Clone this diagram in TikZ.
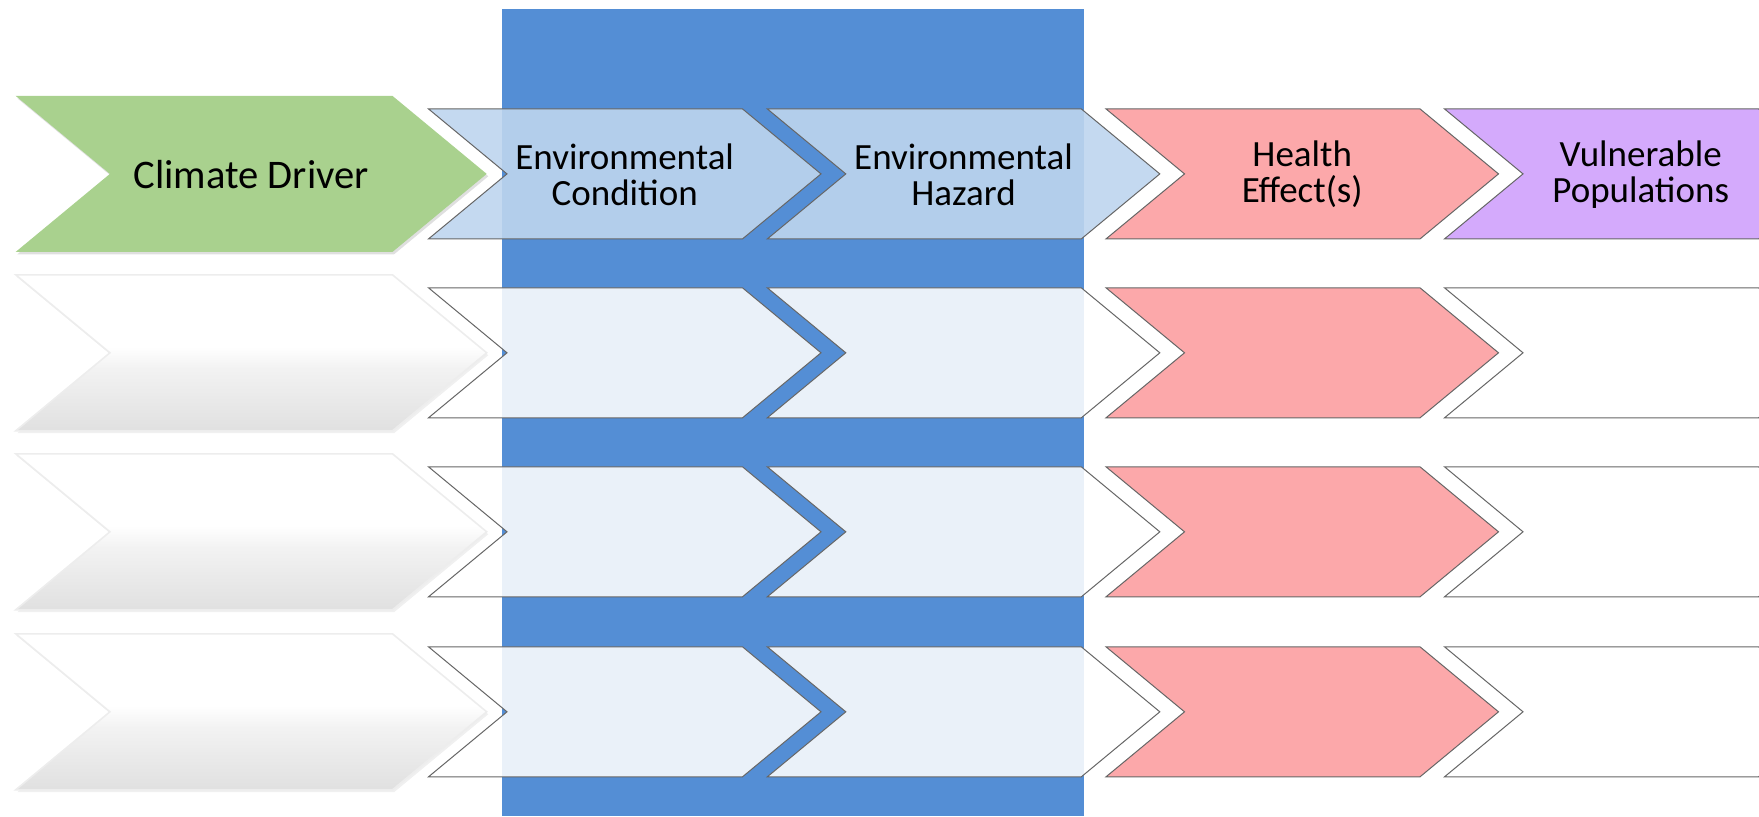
\documentclass[tikz,border=0pt]{standalone}
\usepackage{fontspec}
\setmainfont{Carlito}
\usetikzlibrary{shadows}
\definecolor{cgreen}{RGB}{169,209,142}
\definecolor{cband}{RGB}{84,142,213}
\definecolor{clight}{RGB}{190,213,238}
\definecolor{cred}{RGB}{252,168,170}
\definecolor{cpurple}{RGB}{212,170,252}
\pgfdeclareverticalshading{climshade}{100bp}{color(0bp)=(black!12); color(25bp)=(black!12); color(45bp)=(black!5); color(52bp)=(white); color(100bp)=(white)}
\newcommand{\chevshape}[4]{%
  \path[#1] (#2,#3-65*#4) -- ++(314*#4,0) -- ++(78.5*#4,65*#4) -- ++(-78.5*#4,65*#4) -- ++(-314*#4,0) -- ++(78.5*#4,-65*#4) -- cycle;}
\tikzset{
  outl/.style={draw=black!60, line width=0.5pt},
  climg/.style={fill=cgreen, drop shadow={opacity=0.25, shadow xshift=0.8pt, shadow yshift=-1.2pt}},
  climw/.style={shading=climshade, draw=black!7, line width=0.8pt, drop shadow={opacity=0.12, shadow xshift=0.8pt, shadow yshift=-1.2pt}},
  envhead/.style={outl, fill=clight, fill opacity=0.9},
  envbody/.style={outl, fill=white, fill opacity=0.88},
  healthbox/.style={outl, fill=cred},
  vulnhead/.style={outl, fill=cpurple},
  vulnbody/.style={outl, fill=white},
  lab/.style={align=center, font=\fontsize{18.5}{18}\selectfont, text=black, inner sep=0pt},
}
\begin{document}
\begin{tikzpicture}[x=0.5pt, y=-0.5pt]
\useasboundingbox (0,0) rectangle (1759,816);
\clip (0,0) rectangle (1759,816);
% climate driver chevrons
\chevshape{climg}{15.7}{173.9}{1.2}
\chevshape{climw}{15.7}{352.8}{1.2}
\chevshape{climw}{15.7}{531.8}{1.2}
\chevshape{climw}{15.7}{711.8}{1.2}
% blue band
\fill[cband] (501.5,9) rectangle (1083.6,816);
% row 1
\chevshape{envhead}{428.5}{173.9}{1}
\chevshape{envhead}{767.3}{173.9}{1}
\chevshape{healthbox}{1106}{173.9}{1}
\chevshape{vulnhead}{1444.5}{173.9}{1}
% rows 2-4
\foreach \cy in {352.8,531.8,711.8}{
  \chevshape{envbody}{428.5}{\cy}{1}
  \chevshape{envbody}{767.3}{\cy}{1}
  \chevshape{healthbox}{1106}{\cy}{1}
  \chevshape{vulnbody}{1444.5}{\cy}{1}
}
% labels
\node[lab, font=\fontsize{20.3}{19}\selectfont] (tclim) at (251.2,174.5) {Climate Driver};
\node[lab] (tcond) at (624.7,174.5) {Environmental\\Condition};
\node[lab] (thaz) at (963.5,174.5) {Environmental\\Hazard};
\node[lab] (thealth) at (1302.2,174.5) {Health\\Effect(s)};
\node[lab] (tvuln) at (1640.7,174.5) {Vulnerable\\Populations};
\end{tikzpicture}
\end{document}
